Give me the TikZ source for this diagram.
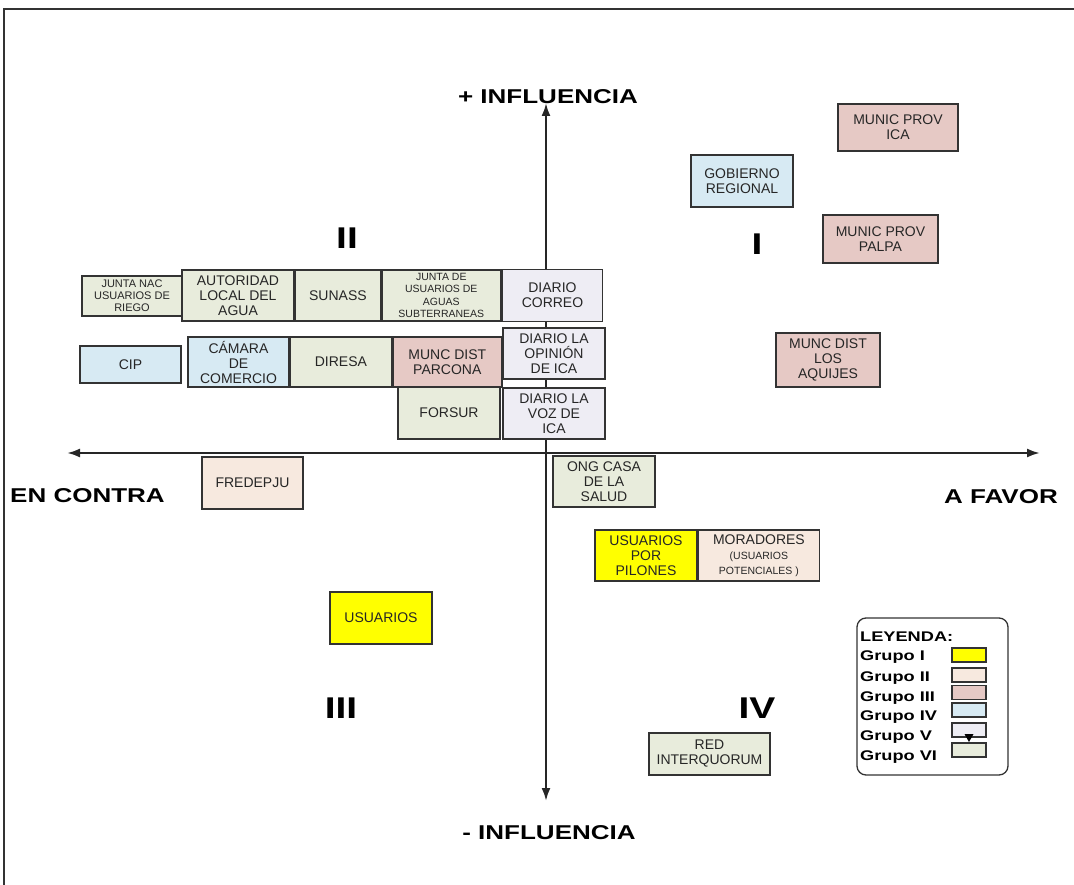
\documentclass[tikz,border=0pt]{standalone}
\usepackage{graphicx}
\usepackage{xcolor}
\usepackage{fontspec}
\setmainfont{Liberation Sans}
\usepackage{tikz}
\usetikzlibrary{arrows}
\usetikzlibrary{arrows.meta}
\usetikzlibrary{positioning}

\definecolor{grpI}{HTML}{FFFF00}
\definecolor{grpII}{HTML}{F7E9DF}
\definecolor{grpIII}{HTML}{E6C9C5}
\definecolor{grpIV}{HTML}{D7EAF3}
\definecolor{grpV}{HTML}{EEEDF4}
\definecolor{grpVI}{HTML}{E8ECDC}

\newcommand{\wide}[1]{\scalebox{1.3}[1]{#1}}
\newcommand{\tinytxt}{\fontsize{10.5}{12}\selectfont}

\tikzset{
  actor/.style 2 args={draw=black!80, line width=1.4pt, inner sep=0pt, align=center,
    minimum width=#1pt, minimum height=#2pt, text=black!85,
    font=\fontsize{14}{15}\selectfont},
  small/.style={font=\fontsize{11}{12}\selectfont},
  g1/.style={fill=grpI}, g2/.style={fill=grpII}, g3/.style={fill=grpIII},
  g4/.style={fill=grpIV}, g5/.style={fill=grpV}, g6/.style={fill=grpVI},
  axis/.style={line width=2.2pt, black!85, {Latex[length=13pt,width=9pt]}-{Latex[length=13pt,width=9pt]}},
  axlabel/.style={font=\fontsize{20}{22}\selectfont\bfseries, inner sep=0pt},
  quad/.style={font=\fontsize{30}{30}\selectfont\bfseries, inner sep=0pt},
  legtext/.style={font=\fontsize{14}{15}\selectfont\bfseries, anchor=west, inner sep=0pt},
  swatch/.style={draw=black!80, line width=1.3pt, minimum width=34pt, minimum height=14pt, inner sep=0pt}
}

\begin{document}
\begin{tikzpicture}[x=1pt, y=-1pt]
\useasboundingbox (0,0) rectangle (1074,885);
\draw[line width=1.5pt, black!80] (4,885) -- (4,9) -- (1074,9);

% axes
\coordinate (top) at (546,103);
\coordinate (bottom) at (546,801);
\coordinate (left) at (67,453);
\coordinate (right) at (1040,453);
\draw[axis] (bottom) -- (top);
\draw[axis] (left) -- (right);
\node[axlabel] (masinf) at (548,97) {\wide{+ INFLUENCIA}};
\node[axlabel] (menosinf) at (549,833) {\wide{- INFLUENCIA}};
\node[axlabel, anchor=west] (contra) at (10,496) {\wide{EN CONTRA}};
\node[axlabel, anchor=east] (favor) at (1058,497) {\wide{A FAVOR}};

% quadrants
\node[quad] (qII) at (347,238) {\wide{II}};
\node[quad] (qI) at (757,244) {\wide{I}};
\node[quad] (qIII) at (341,708) {\wide{III}};
\node[quad] (qIV) at (757,708) {\wide{IV}};

% quadrant II
\node[actor={100}{40}, g6, small] (juntanac) at (132,296) {JUNTA NAC\\USUARIOS DE\\RIEGO};
\node[actor={112}{51}, g6] (autoridad) at (238,295.5) {AUTORIDAD\\LOCAL DEL\\AGUA};
\node[actor={85}{51}, g6, right=0pt of autoridad] (sunass) {SUNASS};
\node[actor={119}{51}, g6, right=0pt of sunass, font=\fontsize{10.5}{12.5}\selectfont] (juntaagua) {JUNTA DE\\USUARIOS DE\\AGUAS\\SUBTERRANEAS};
\node[actor={100}{52}, g5] (correo) at (552.5,295.5) {DIARIO\\CORREO};
\node[actor={101}{37}, g4] (cip) at (130.5,364.5) {CIP};
\node[actor={101}{50}, g4] (camara) at (238.5,362) {CÁMARA\\DE\\COMERCIO};
\node[actor={101}{50}, g6, right=0pt of camara] (diresa) {DIRESA};
\node[actor={109}{50}, g3, right=0pt of diresa] (parcona) {MUNC DIST\\PARCONA};
\node[actor={102}{51}, g5] (opinion) at (554,353.5) {DIARIO LA\\OPINIÓN\\DE ICA};
\node[actor={102}{52}, g6] (forsur) at (449,413) {FORSUR};
\node[actor={102}{51}, g5] (voz) at (554,413.5) {DIARIO LA\\VOZ DE\\ICA};

% quadrant I
\node[actor={120}{47}, g3] (provica) at (898,127.5) {MUNIC PROV\\ICA};
\node[actor={102}{52}, g4] (gobierno) at (742,181) {GOBIERNO\\REGIONAL};
\node[actor={115}{48}, g3] (palpa) at (880.5,239) {MUNIC PROV\\PALPA};
\node[actor={104}{54}, g3] (aquijes) at (828,360) {MUNC DIST\\LOS\\AQUIJES};

% quadrants III and IV
\node[actor={101}{52}, g2] (fredepju) at (252.5,483) {FREDEPJU};
\node[actor={102}{52}, g1] (usuarios) at (381,618) {USUARIOS};
\node[actor={102}{51}, g6] (ong) at (604,481.5) {ONG CASA\\DE LA\\SALUD};
\node[actor={102}{51}, g1] (pilones) at (646,555.5) {USUARIOS\\POR\\PILONES};
\node[actor={121}{51}, g2, right=0pt of pilones] (moradores) {MORADORES\\\tinytxt (USUARIOS\\\tinytxt POTENCIALES )};
\node[actor={121}{42}, g6] (red) at (709.5,754) {RED\\INTERQUORUM};

% legend
\draw[line width=1.3pt, black!80, rounded corners=9pt] (857,618) rectangle (1008,775);
\node[legtext] (leyenda) at (860,637) {\wide{LEYENDA:}};
\node[legtext] (lgI) at (860,657) {\wide{Grupo I}};
\node[legtext] (lgII) at (860,678) {\wide{Grupo II}};
\node[legtext] (lgIII) at (860,698) {\wide{Grupo III}};
\node[legtext] (lgIV) at (860,717) {\wide{Grupo IV}};
\node[legtext] (lgV) at (860,737) {\wide{Grupo V}};
\node[legtext] (lgVI) at (860,757) {\wide{Grupo VI}};
\node[swatch, g1] (swI) at (969,655) {};
\node[swatch, g2] (swII) at (969,675) {};
\node[swatch, g3] (swIII) at (969,692.5) {};
\node[swatch, g4] (swIV) at (969,710) {};
\node[swatch, g5] (swV) at (969,730) {};
\node[swatch, g6] (swVI) at (969,750) {};
\fill[black] (964.5,734) -- (973.5,734) -- (969,742) -- cycle;
\end{tikzpicture}
\end{document}
